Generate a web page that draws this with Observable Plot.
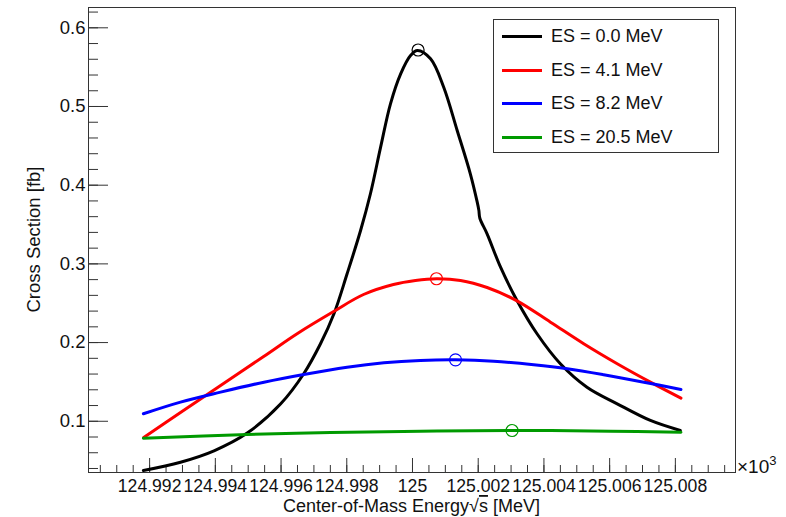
<!DOCTYPE html>
<html>
<head>
<meta charset="utf-8">
<script src="https://cdn.jsdelivr.net/npm/d3@7"></script>
<script src="https://cdn.jsdelivr.net/npm/@observablehq/plot@0.6"></script>
<style>
  body { margin: 0; background: #fff; }
  #wrap { position: relative; width: 786px; height: 517px; font-family: "Liberation Sans", Arial, sans-serif; color: #111; }
  #legend { position: absolute; left: 493px; top: 19px; width: 226px; height: 134px; box-sizing: border-box; border: 1px solid #333; background: #fff; }
  .lg-row { position: absolute; left: 0; height: 30px; width: 100%; }
  .lg-line { position: absolute; left: 8px; top: 14px; width: 40px; height: 3px; }
  .lg-text { position: absolute; left: 57px; top: 4px; font-size: 18px; line-height: 22px; white-space: nowrap; }
</style>
</head>
<body>
<div id="wrap"><div id="chart"></div><div id="legend"></div></div>
<script>
// ---------------- data ----------------
const seriesNames = ["ES = 0.0 MeV", "ES = 4.1 MeV", "ES = 8.2 MeV", "ES = 20.5 MeV"];

// ES = 0.0 MeV  (x in units of 10^3 MeV)
const es00_x = [124.99181, 124.99294, 124.99396, 124.99497, 124.99599, 124.99669, 124.99720, 124.99761, 124.99801, 124.99842, 124.99872, 124.99903, 124.99933, 124.99964, 124.99994, 125.00015, 125.00055, 125.00095, 125.00136, 125.00176, 125.00197, 125.00202, 125.00205, 125.00227, 125.00268, 125.00318, 125.00379, 125.00450, 125.00531, 125.00623, 125.00724, 125.00815];
const es00_y = [0.0375, 0.0480, 0.0625, 0.0850, 0.1222, 0.1604, 0.1985, 0.2366, 0.2874, 0.3424, 0.3891, 0.4483, 0.5034, 0.5415, 0.5648, 0.5712, 0.5606, 0.5245, 0.4695, 0.4145, 0.3784, 0.3680, 0.3580, 0.3382, 0.2958, 0.2535, 0.2112, 0.1731, 0.1433, 0.1222, 0.1010, 0.0883];

// ES = 4.1 MeV
const es41_x = [124.99182, 124.99294, 124.99416, 124.99547, 124.99650, 124.99760, 124.99851, 124.99942, 125.00009, 125.00073, 125.00146, 125.00227, 125.00318, 125.00420, 125.00521, 125.00623, 125.00724, 125.00817];
const es41_y = [0.0794, 0.1112, 0.1455, 0.1823, 0.2116, 0.2395, 0.2611, 0.2738, 0.2789, 0.2811, 0.2790, 0.2700, 0.2530, 0.2259, 0.1985, 0.1731, 0.1497, 0.1294];

// ES = 8.2 MeV
const es82_x = [124.99181, 124.99294, 124.99416, 124.99548, 124.99669, 124.99801, 124.99913, 125.00024, 125.00131, 125.00247, 125.00369, 125.00471, 125.00582, 125.00704, 125.00817];
const es82_y = [0.1095, 0.1243, 0.1370, 0.1497, 0.1595, 0.1687, 0.1743, 0.1773, 0.1781, 0.1764, 0.1718, 0.1667, 0.1591, 0.1497, 0.1404];

// ES = 20.5 MeV
const es205_x = [124.99181, 124.99497, 124.99751, 125.00024, 125.00303, 125.00602, 125.00817];
const es205_y = [0.0785, 0.0832, 0.0858, 0.0874, 0.0883, 0.0874, 0.0861];

// peak markers (open circles)
const peak_x = [125.00017, 125.00073, 125.00131, 125.00303];
const peak_y = [0.5718, 0.2811, 0.1781, 0.0883];

// axis ticks
const xMajorTicks = [124.992, 124.994, 124.996, 124.998, 125.000, 125.002, 125.004, 125.006, 125.008];
const xTickLabels = ["124.992", "124.994", "124.996", "124.998", "125", "125.002", "125.004", "125.006", "125.008"];
const yMajorTicks = [0.1, 0.2, 0.3, 0.4, 0.5, 0.6];
const yTickLabels = ["0.1", "0.2", "0.3", "0.4", "0.5", "0.6"];

// ---------------- styling ----------------
const colors = ["#000000", "#ff0000", "#0000ff", "#009a00"];
const xDomain = [124.99014, 125.00983];
const yDomain = [0.0349, 0.6258];

const xMinorTicks = d3.range(0, 40).map(i => +(124.9905 + i * 0.0005).toFixed(4)).filter(v => v > xDomain[0] && v < xDomain[1]);
const yMinorTicks = d3.range(2, 32).map(i => +(i * 0.02).toFixed(2)).filter(v => v > yDomain[0] && v < yDomain[1]);

const seriesX = [es00_x, es41_x, es82_x, es205_x];
const seriesY = [es00_y, es41_y, es82_y, es205_y];
const lines = seriesX.map((xs, s) => xs.map((x, i) => ({x, y: seriesY[s][i], s})));
const peaks = peak_x.map((x, i) => ({x, y: peak_y[i], s: i}));

const fontSize = 18.5;
const chart = Plot.plot({
  width: 786,
  height: 517,
  marginLeft: 88,
  marginRight: 51,
  marginTop: 7,
  marginBottom: 45,
  style: {fontFamily: '"Liberation Sans", Arial, sans-serif', fontSize: fontSize + "px", color: "#111", background: "#fff", overflow: "visible"},
  x: {domain: xDomain, label: null},
  y: {domain: yDomain, label: null},
  marks: [
    Plot.axisX(xMinorTicks, {tickSize: -7, tickFormat: () => "", label: null, stroke: "#333"}),
    Plot.axisX(xMajorTicks, {tickSize: -14, tickFormat: () => "", label: null, stroke: "#333"}),
    Plot.axisX(xMajorTicks, {tickSize: 0, tickPadding: 7, fontSize: 17.6, tickFormat: d => xTickLabels[xMajorTicks.indexOf(d)], label: null}),
    Plot.axisY(yMinorTicks, {tickSize: -10, tickFormat: () => "", label: null, stroke: "#333"}),
    Plot.axisY(yMajorTicks, {tickSize: -20, tickFormat: () => "", label: null, stroke: "#333"}),
    Plot.axisY(yMajorTicks, {tickSize: 0, tickPadding: 3, fontSize, tickFormat: d => yTickLabels[yMajorTicks.indexOf(d)], label: null}),
    Plot.frame({stroke: "#333", strokeWidth: 1}),
    ...lines.map((data, s) => Plot.line(data, {x: "x", y: "y", stroke: colors[s], strokeWidth: 3, curve: "catmull-rom"})),
    ...peaks.map(p => Plot.dot([p], {x: "x", y: "y", r: 6, stroke: colors[p.s], fill: "none", strokeWidth: 1.2}))
  ]
});
document.getElementById("chart").appendChild(chart);

// axis titles and exponent
const svg = d3.select(chart);
svg.append("text")
  .attr("transform", "translate(40,239.5) rotate(-90)")
  .attr("text-anchor", "middle")
  .attr("font-size", fontSize)
  .attr("fill", "#111")
  .text("Cross Section [fb]");
const xt = svg.append("text")
  .attr("x", 411.5).attr("y", 512)
  .attr("text-anchor", "middle")
  .attr("font-size", 18)
  .attr("fill", "#111");
xt.append("tspan").text("Center-of-Mass Energy√");
xt.append("tspan").attr("text-decoration", "overline").text("s");
xt.append("tspan").text(" [MeV]");
const ex = svg.append("text")
  .attr("x", 737).attr("y", 473)
  .attr("text-anchor", "start")
  .attr("font-size", 19)
  .attr("fill", "#111");
ex.append("tspan").text("×10");
ex.append("tspan").attr("dy", -8).attr("font-size", 13).text("3");

// legend
const legend = document.getElementById("legend");
seriesNames.forEach((name, i) => {
  const row = document.createElement("div");
  row.className = "lg-row";
  row.style.top = (1 + i * 33.7) + "px";
  const ln = document.createElement("div");
  ln.className = "lg-line";
  ln.style.background = colors[i];
  const tx = document.createElement("div");
  tx.className = "lg-text";
  tx.textContent = name;
  row.appendChild(ln); row.appendChild(tx);
  legend.appendChild(row);
});
</script>
</body>
</html>
